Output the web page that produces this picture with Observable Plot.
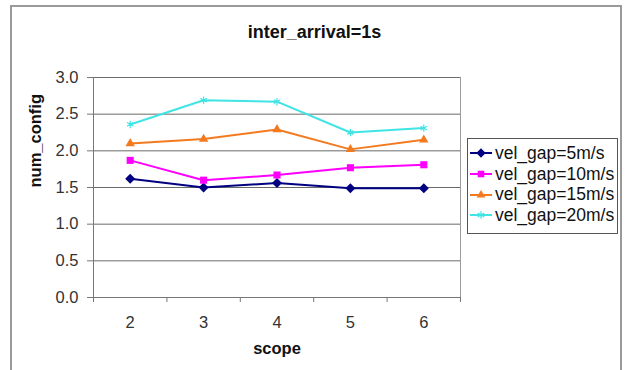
<!DOCTYPE html>
<html><head><meta charset="utf-8">
<script src="https://cdn.jsdelivr.net/npm/d3@7"></script>
<script src="https://cdn.jsdelivr.net/npm/@observablehq/plot@0.6"></script>
<style>
body{margin:0;background:#fff;font-family:"Liberation Sans",Arial,sans-serif}
#wrap{position:relative;width:629px;height:370px;overflow:hidden;background:#fff}
#border{position:absolute;left:10px;top:5px;width:612px;height:400px;border:2px solid #9a9a9a;box-sizing:border-box}
#title{position:absolute;left:0;top:22px;width:629px;text-align:center;font-weight:bold;font-size:18px;color:#111}
#chart{position:absolute;left:0;top:0}
#legend{position:absolute;left:467px;top:138px;width:151px;height:96px;border:1px solid #555;box-sizing:border-box;background:#fff;padding-top:4px}
.row{display:flex;align-items:center;height:20.7px;font-size:17.5px;color:#111;white-space:nowrap}
.row svg{margin-left:2px;margin-right:3px;flex:none}
</style></head>
<body><div id="wrap"><div id="border"></div><div id="chart"></div><div id="title"></div><div id="legend"></div></div>
<script>
const titleText = "inter_arrival=1s";
const xLabel = "scope";
const yLabel = "num_config";
const scopes = [2, 3, 4, 5, 6];
const seriesNames = ["vel_gap=5m/s", "vel_gap=10m/s", "vel_gap=15m/s", "vel_gap=20m/s"];
const gap5  = [1.62, 1.50, 1.56, 1.49, 1.49];
const gap10 = [1.87, 1.60, 1.67, 1.77, 1.81];
const gap15 = [2.10, 2.16, 2.29, 2.02, 2.15];
const gap20 = [2.36, 2.69, 2.67, 2.25, 2.31];
const yTicks = [0, 0.5, 1.0, 1.5, 2.0, 2.5, 3.0];
const colors = ["#000080", "#ff00ff", "#f47a20", "#40e4e4"];
const symbols = ["diamond2", "square2", "triangle2", "asterisk"];

const allSeries = [gap5, gap10, gap15, gap20];
const data = [];
allSeries.forEach((vals, i) => vals.forEach((v, j) => data.push({scope: scopes[j], value: v, series: seriesNames[i]})));
const bounds = [scopes[0] - 0.5, ...scopes.map(s => s + 0.5)];

document.getElementById("title").textContent = titleText;

const filled = data.filter(d => d.series !== seriesNames[3]);
const starred = data.filter(d => d.series === seriesNames[3]);

const plot = Plot.plot({
  width: 629, height: 370,
  marginLeft: 93, marginRight: 169, marginTop: 77, marginBottom: 73,
  style: {fontFamily: "'Liberation Sans', Arial, sans-serif", fontSize: "16.5px", background: "transparent", color: "#222"},
  x: {domain: [bounds[0], bounds[bounds.length - 1]]},
  y: {domain: [0, 3]},
  color: {domain: seriesNames, range: colors},
  symbol: {domain: seriesNames, range: symbols},
  marks: [
    Plot.gridY(yTicks, {stroke: "#6a6a6a", strokeOpacity: 1, strokeWidth: 1}),
    Plot.ruleX([bounds[bounds.length - 1]], {stroke: "#9a9a9a", strokeWidth: 1}),
    Plot.ruleX([bounds[0]], {stroke: "#777", strokeWidth: 1}),
    Plot.ruleY([0], {stroke: "#777", strokeWidth: 1}),
    Plot.axisY({ticks: yTicks, tickFormat: d3.format(".1f"), tickSize: 6, tickPadding: 9, label: null, stroke: "#777", color: "#333"}),
    Plot.axisX({ticks: bounds, tickFormat: () => "", tickSize: 5, label: null, stroke: "#777"}),
    Plot.axisX({ticks: scopes, tickFormat: d => String(d), tickSize: 0, tickPadding: 19, label: null, color: "#333"}),
    Plot.line(data, {x: "scope", y: "value", z: "series", stroke: "series", strokeWidth: 2}),
    Plot.dot(filled, {x: "scope", y: "value", symbol: "series", fill: "series", r: 4.5}),
    Plot.dot(starred, {x: "scope", y: "value", symbol: "series", stroke: "series", r: 3.5, strokeWidth: 1.2}),
    Plot.text([yLabel], {frameAnchor: "left", dx: -58, rotate: -90, fontWeight: "bold", fontSize: 16.5, fill: "#111"}),
    Plot.text([xLabel], {frameAnchor: "bottom", dy: 56, fontWeight: "bold", fontSize: 16.5, fill: "#111"})
  ]
});
document.getElementById("chart").appendChild(plot);

const legend = d3.select("#legend");
seriesNames.forEach((name, i) => {
  const row = legend.append("div").attr("class", "row");
  const svg = row.append("svg").attr("width", 22).attr("height", 14);
  svg.append("line").attr("x1", 0).attr("x2", 22).attr("y1", 7).attr("y2", 7).attr("stroke", colors[i]).attr("stroke-width", 2);
  const symType = [d3.symbolDiamond2, d3.symbolSquare2, d3.symbolTriangle2, d3.symbolAsterisk][i];
  const p = svg.append("path").attr("transform", "translate(11,7)").attr("d", d3.symbol(symType, i === 3 ? 40 : 55)());
  if (i === 3) p.attr("fill", "none").attr("stroke", colors[i]).attr("stroke-width", 1.2);
  else p.attr("fill", colors[i]);
  row.append("span").text(name);
});
</script>
</body></html>
